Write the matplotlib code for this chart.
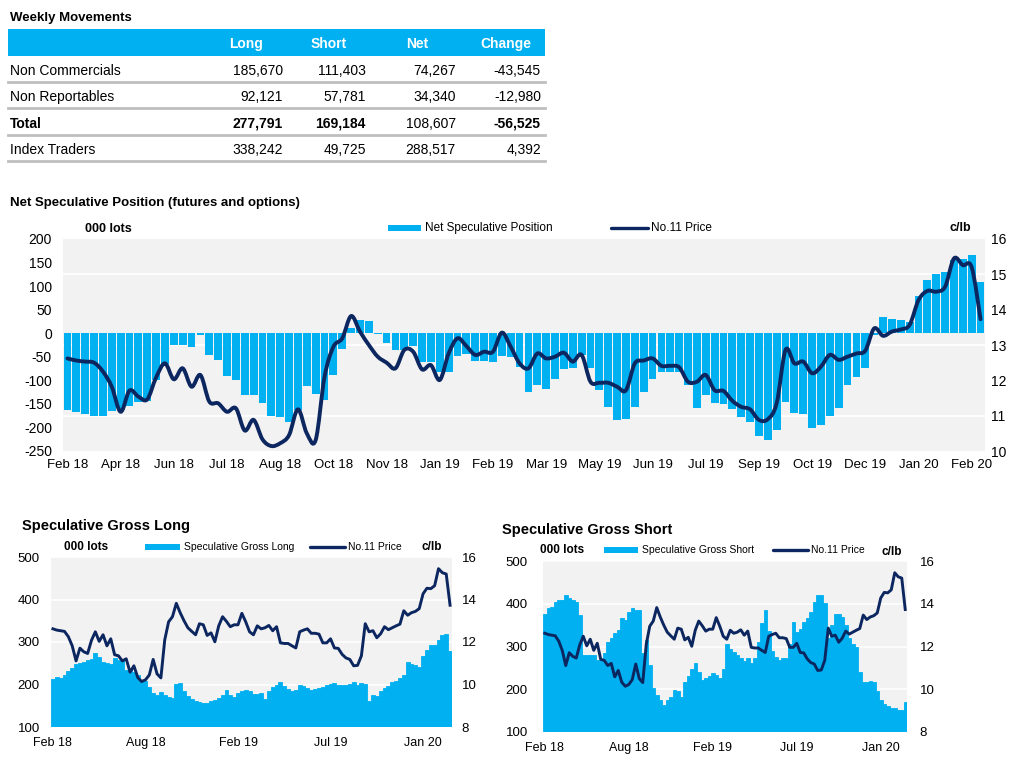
import numpy as np
import matplotlib
matplotlib.use('Agg')
import matplotlib.pyplot as plt
from matplotlib.patches import Rectangle, PathPatch
from matplotlib.lines import Line2D
from matplotlib.path import Path

plt.rcParams['font.family'] = ['Liberation Sans', 'DejaVu Sans']
plt.rcParams['axes.unicode_minus'] = False

BLUE = '#00B0F0'
NAVY = '#0C2660'
PANEL = '#F2F2F2'
W, H = 1026, 763

# weekly movements table
table_rows = ['Non Commercials', 'Non Reportables', 'Total', 'Index Traders']
table_cols = ['Long', 'Short', 'Net', 'Change']
long_pos = [185670, 92121, 277791, 338242]
short_pos = [111403, 57781, 169184, 49725]
net_pos = [74267, 34340, 108607, 288517]
change = [-43545, -12980, -56525, 4392]

# weekly series, Feb 18 .. Feb 20 (000 lots, c/lb)
net_spec = [-163, -167, -172, -175, -175, -165, -162, -155, -147, -143,
            -100, -65, -24, -24, -30, -3, -46, -57, -90, -99,
            -132, -132, -149, -175, -177, -188, -163, -113, -130, -142,
            -88, -33, 12, 28, 25, -2, -21, -36, -36, -28,
            -62, -62, -83, -83, -49, -45, -60, -58, -61, -48,
            -50, -72, -125, -110, -119, -98, -76, -74, -47, -74,
            -121, -157, -185, -183, -157, -125, -98, -83, -83, -83,
            -110, -159, -132, -149, -151, -161, -178, -189, -219, -226,
            -205, -147, -170, -171, -202, -194, -176, -158, -110, -93,
            -74, -3, 34, 31, 29, 23, 80, 112, 125, 131,
            156, 158, 166, 108.6]

price = [12.62, 12.56, 12.53, 12.50, 12.25, 11.82, 11.11, 11.71, 11.54, 11.46,
         12.08, 12.48, 12.03, 12.34, 11.82, 12.15, 11.40, 11.35, 11.11, 11.21,
         10.58, 10.88, 10.33, 10.14, 10.22, 10.45, 11.18, 10.50, 10.31, 12.10,
         12.95, 13.19, 13.82, 13.38, 13.00, 12.67, 12.50, 12.34, 12.86, 12.81,
         12.31, 12.43, 12.01, 12.76, 13.19, 12.97, 12.72, 12.81, 12.81, 13.35,
         12.95, 12.48, 12.34, 12.76, 12.62, 12.67, 12.78, 12.53, 12.72, 11.96,
         11.93, 11.93, 11.82, 11.72, 12.48, 12.56, 12.62, 12.41, 12.41, 12.37,
         11.96, 11.96, 12.15, 11.72, 11.70, 11.42, 11.25, 11.18, 10.88, 10.90,
         11.35, 12.86, 12.48, 12.53, 12.20, 12.39, 12.72, 12.58, 12.67, 12.76,
         12.84, 13.47, 13.26, 13.38, 13.44, 13.57, 14.27, 14.53, 14.51, 14.65,
         15.45, 15.26, 15.20, 13.73]

gross_long = [214, 218, 215, 223, 231, 239, 248, 250, 253, 257,
              261, 273, 264, 253, 250, 248, 262, 258, 261, 233,
              237, 229, 222, 209, 208, 194, 180, 175, 183, 176,
              170, 169, 201, 204, 184, 172, 167, 162, 159, 157,
              157, 162, 164, 169, 176, 186, 175, 170, 180, 184,
              186, 184, 178, 178, 180, 167, 184, 194, 198, 205,
              196, 190, 184, 188, 198, 197, 192, 188, 190, 192,
              194, 200, 201, 204, 198, 200, 200, 201, 205, 200,
              204, 201, 162, 175, 172, 184, 192, 196, 206, 208,
              215, 222, 253, 248, 247, 242, 268, 282, 292, 294,
              305, 316, 318, 277.8]

gross_short = [377, 389, 393, 403, 408, 408, 420, 414, 408, 403,
               373, 279, 279, 279, 279, 269, 269, 284, 311, 319,
               331, 338, 367, 362, 381, 390, 385, 385, 284, 315,
               257, 203, 187, 175, 164, 175, 183, 199, 195, 183,
               218, 230, 248, 261, 241, 222, 227, 232, 237, 234,
               227, 248, 305, 294, 286, 280, 272, 266, 272, 261,
               274, 311, 354, 385, 336, 290, 276, 269, 272, 272,
               307, 358, 335, 342, 358, 366, 381, 404, 420, 420,
               401, 319, 350, 377, 377, 370, 350, 319, 307, 300,
               241, 218, 217, 220, 218, 195, 175, 165, 160, 157,
               156, 152, 152, 169.2]

main_ticks = ['Feb 18', 'Apr 18', 'Jun 18', 'Jul 18', 'Aug 18', 'Oct 18',
              'Nov 18', 'Jan 19', 'Feb 19', 'Mar 19', 'May 19', 'Jun 19',
              'Jul 19', 'Sep 19', 'Oct 19', 'Dec 19', 'Jan 20', 'Feb 20']
gross_ticks = ['Feb 18', 'Aug 18', 'Feb 19', 'Jul 19', 'Jan 20']

fig = plt.figure(figsize=(W / 100, H / 100), dpi=100)
ov = fig.add_axes([0, 0, 1, 1])
ov.set_xlim(0, W)
ov.set_ylim(H, 0)
ov.axis('off')


def px_axes(left, top, right, bottom):
    return fig.add_axes([left / W, 1 - bottom / H, (right - left) / W, (bottom - top) / H])


def legend(x_patch, y, patch_w, label1, x_line, line_w, fs):
    ov.add_patch(Rectangle((x_patch, y - 3), patch_w, 6, color=BLUE, lw=0))
    ov.text(x_patch + patch_w + 4, y, label1, fontsize=fs, va='center')
    ov.add_line(Line2D([x_line, x_line + line_w], [y, y], color=NAVY, lw=2.4,
                       solid_capstyle='round'))
    ov.text(x_line + line_w + 3, y, 'No.11 Price', fontsize=fs, va='center')


def smooth_path(xs, ys):
    # bezier curve through every point (excel-style smoothed line)
    pts = np.column_stack([xs, ys]).astype(float)
    verts = [pts[0]]
    codes = [Path.MOVETO]
    n = len(pts)
    for i in range(n - 1):
        p0 = pts[max(i - 1, 0)]
        p1, p2 = pts[i], pts[i + 1]
        p3 = pts[min(i + 2, n - 1)]
        verts += [p1 + (p2 - p0) / 6, p2 - (p3 - p1) / 6, p2]
        codes += [Path.CURVE4] * 3
    return Path(verts, codes)


# ---- table
ov.text(10, 18, 'Weekly Movements', fontsize=9.5, fontweight='bold', va='center')
ov.add_patch(Rectangle((8, 29), 537, 27, color=BLUE, lw=0))
for cx, col in zip([246, 329, 417, 506], table_cols):
    ov.text(cx, 44, col, fontsize=10, fontweight='bold', color='white',
            ha='center', va='center')
right_edges = [283, 366, 456, 541]
for i, name in enumerate(table_rows):
    y = 71 + i * 26.4
    bold = name == 'Total'
    ov.text(10, y, name, fontsize=10, va='center',
            fontweight='bold' if bold else 'normal')
    vals = [long_pos[i], short_pos[i], net_pos[i], change[i]]
    for j, v in enumerate(vals):
        w = 'bold' if bold and j != 2 else 'normal'
        ov.text(right_edges[j], y, f'{v:,}', fontsize=10, ha='right',
                va='center', fontweight=w)
    ov.add_line(Line2D([8, 545], [y + 11, y + 11], color='#BFBFBF', lw=2))

# ---- net speculative position
ov.text(10, 203, 'Net Speculative Position (futures and options)', fontsize=9.5,
        fontweight='bold', va='center')
ov.text(85, 229, '000 lots', fontsize=9, fontweight='bold', va='center')
ov.text(950, 228, 'c/lb', fontsize=9, fontweight='bold', va='center')
legend(388, 228, 33, 'Net Speculative Position', 611, 37, 8.5)

x = np.arange(len(net_spec))
ax = px_axes(63, 239, 985, 451)
ax.set_facecolor(PANEL)
ax.bar(x, net_spec, width=0.88, color=BLUE, zorder=2)
ax.set_xlim(-0.5, len(x) - 0.5)
ax.set_ylim(-250, 200)
ax.set_yticks(range(-250, 201, 50))
ax.set_yticks([-250 + (p - 10) * 75 for p in range(11, 16)], minor=True)
ax.yaxis.grid(True, which='minor', color='white', lw=1.3)
ax.set_axisbelow(True)
ax.set_xticks(range(0, len(x), 6))
ax.set_xticklabels(main_ticks)
ax.tick_params(axis='y', which='both', length=0, pad=8, labelsize=10)
ax.tick_params(axis='x', length=0, pad=6, labelsize=9.5)
ax2 = ax.twinx()
ax2.set_ylim(10, 16)
ax2.add_patch(PathPatch(smooth_path(x, price), facecolor='none', edgecolor=NAVY,
                        lw=2.8, joinstyle='round', capstyle='round'))
ax2.set_yticks(range(10, 17))
ax2.tick_params(length=0, pad=4, labelsize=10)
for a in (ax, ax2):
    for s in a.spines.values():
        s.set_visible(False)


# ---- gross long / short
def gross_chart(box, values, pads):
    g = px_axes(*box)
    g.set_facecolor(PANEL)
    g.bar(np.arange(len(values)), np.array(values) - 100, bottom=100, width=1.0,
          color=BLUE, edgecolor=BLUE, lw=0.6, zorder=2)
    g.set_xlim(-0.5, len(values) - 0.5)
    g.set_ylim(100, 500)
    g.set_yticks(range(100, 501, 100))
    g.yaxis.grid(True, color='white', lw=1.2)
    g.set_axisbelow(True)
    g.set_xticks(range(0, len(values), 24))
    g.set_xticklabels(gross_ticks)
    g.tick_params(axis='y', length=0, pad=pads[0], labelsize=9.5)
    g.tick_params(axis='x', length=0, pad=pads[2], labelsize=9)
    g2 = g.twinx()
    g2.plot(np.arange(len(price)), price, color=NAVY, lw=2.1)
    g2.set_ylim(8, 16)
    g2.set_yticks(range(8, 17, 2))
    g2.tick_params(length=0, pad=pads[1], labelsize=9.5)
    for a in (g, g2):
        for s in a.spines.values():
            s.set_visible(False)


ov.text(22, 526, 'Speculative Gross Long', fontsize=10.5, fontweight='bold', va='center')
ov.text(64, 547, '000 lots', fontsize=8.5, fontweight='bold', va='center')
ov.text(421, 547, 'c/lb', fontsize=8.5, fontweight='bold', va='center')
legend(145, 547, 35, 'Speculative Gross Long', 310, 35, 7.5)
gross_chart((51, 557, 452, 727), gross_long, (8, 7, 7))

ov.text(502, 530, 'Speculative Gross Short', fontsize=10.5, fontweight='bold', va='center')
ov.text(540, 550, '000 lots', fontsize=8.5, fontweight='bold', va='center')
ov.text(881, 552, 'c/lb', fontsize=8.5, fontweight='bold', va='center')
legend(604, 550, 34, 'Speculative Gross Short', 773, 35, 7.5)
gross_chart((543, 561, 907, 732), gross_short, (11, 9, 7))

fig.savefig('out.png', dpi=100)
